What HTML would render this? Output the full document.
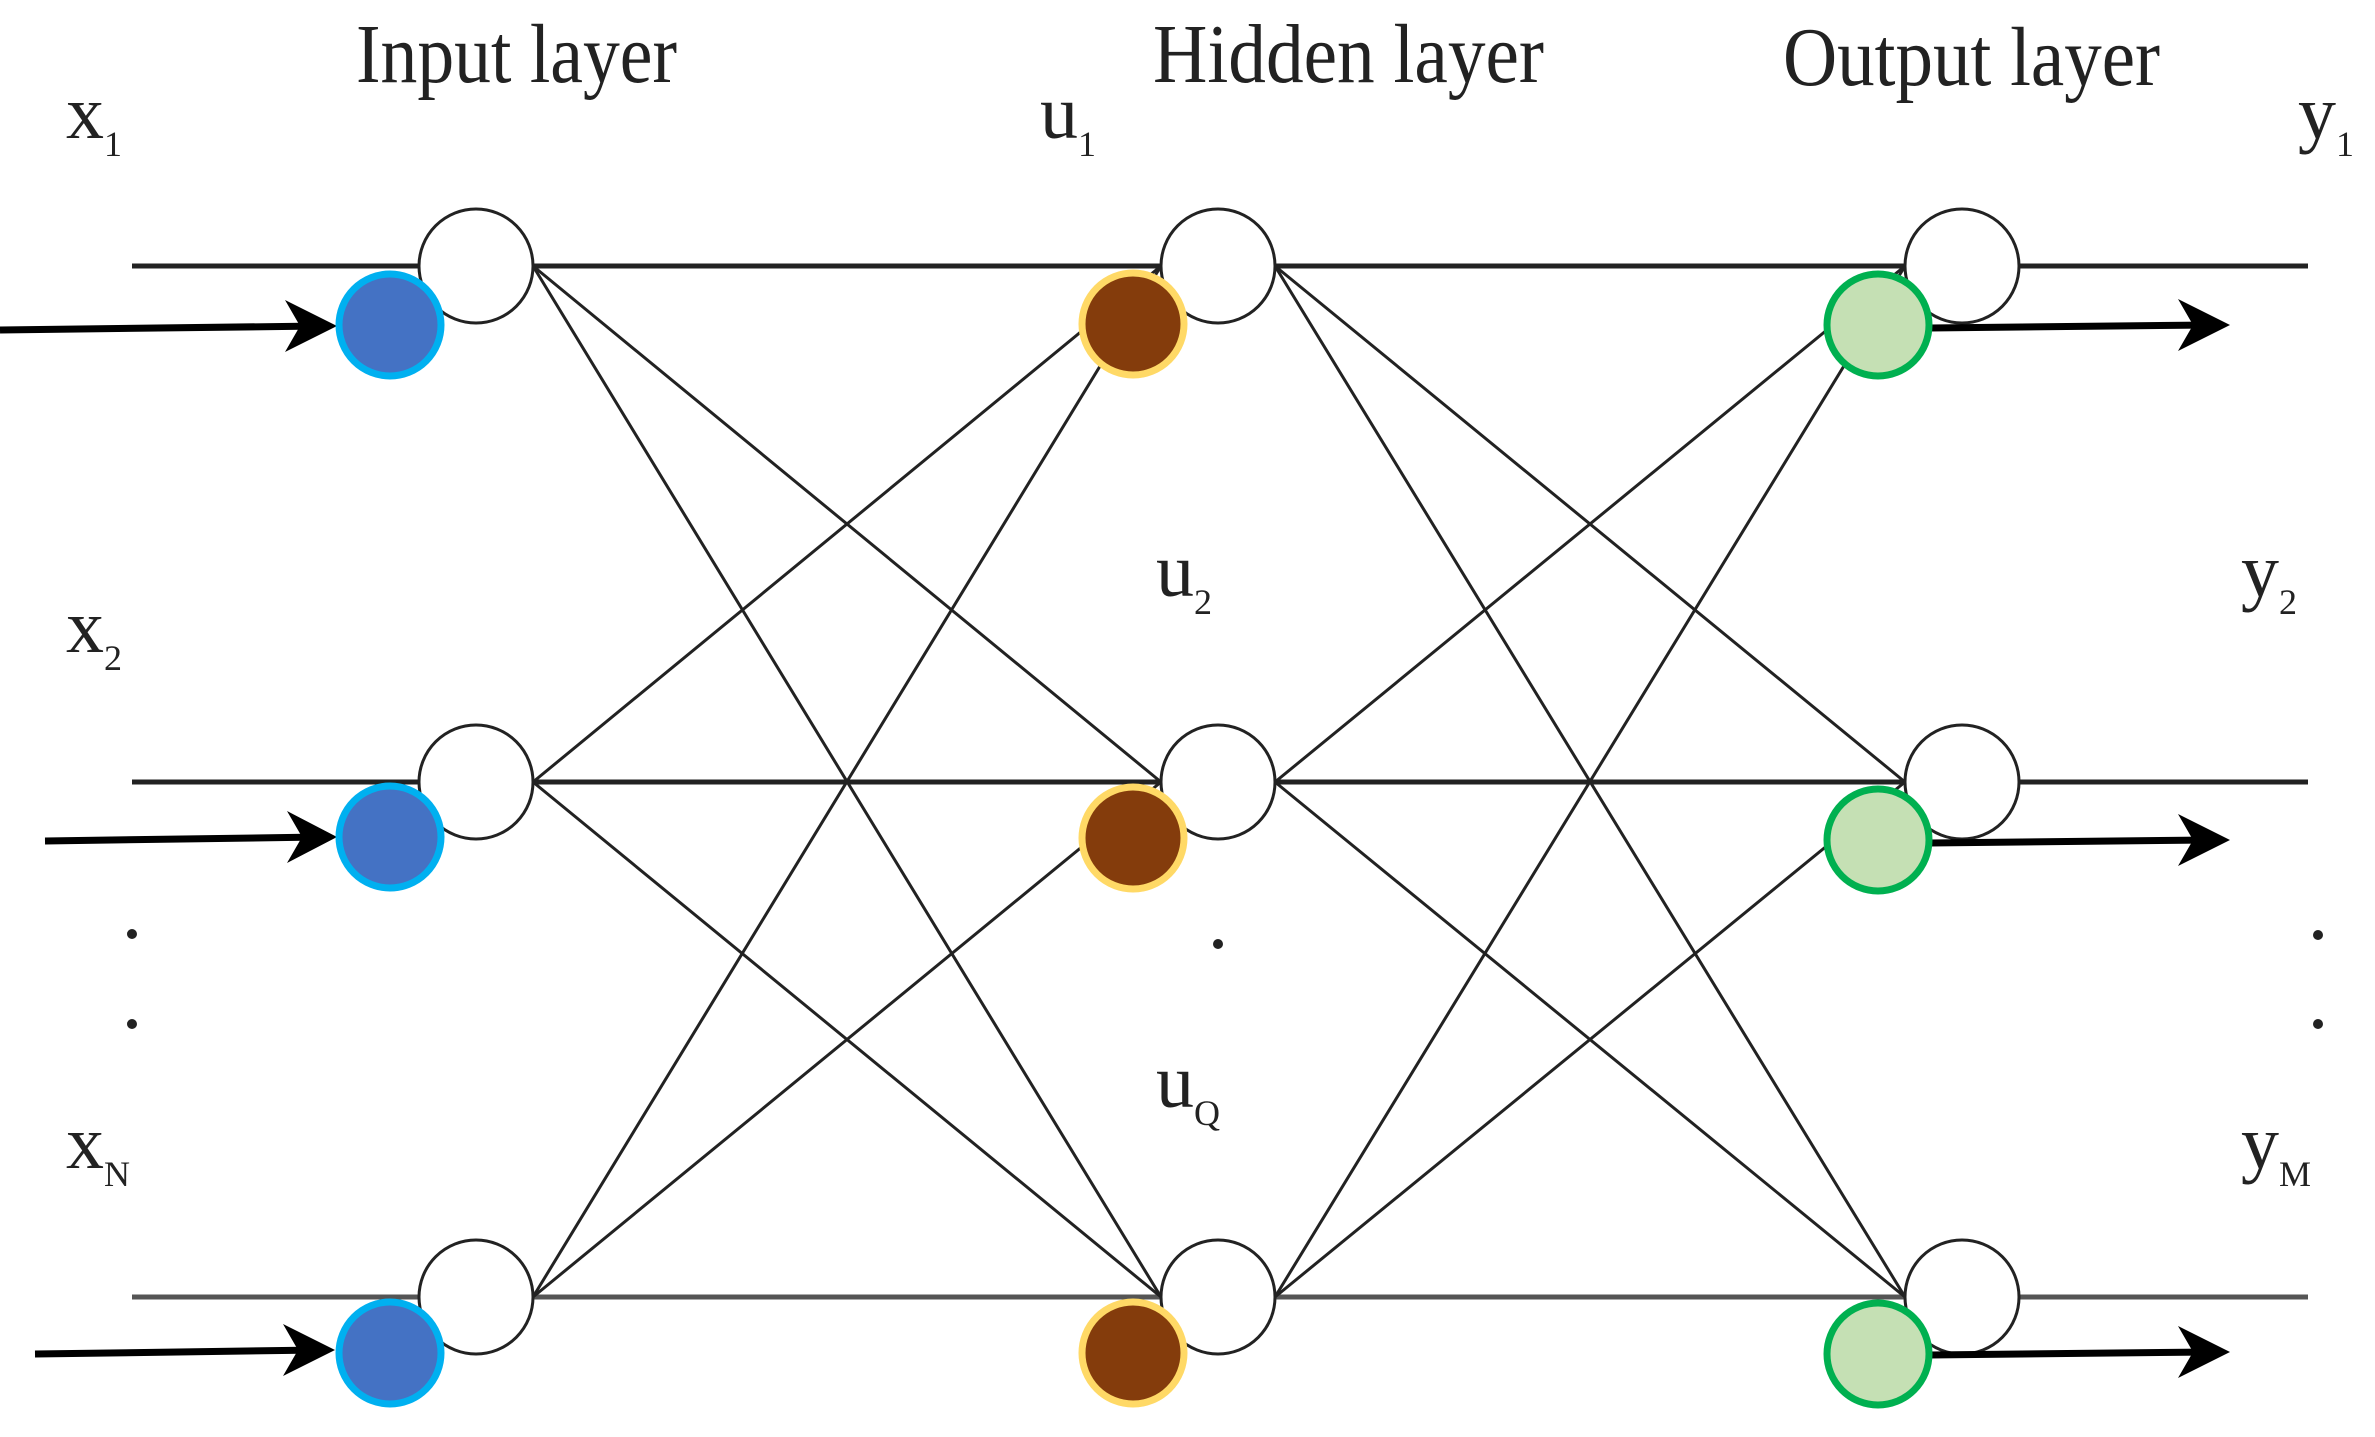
<!DOCTYPE html>
<html><head><meta charset="utf-8"><style>html,body{margin:0;padding:0;background:#fff;}svg{display:block}</style></head>
<body>
<svg width="2375" height="1437" viewBox="0 0 2375 1437" xmlns="http://www.w3.org/2000/svg">
<g stroke="#222" stroke-width="3" fill="none">
<line x1="132" y1="266" x2="2308" y2="266" stroke-width="5"/>
<line x1="132" y1="782" x2="2308" y2="782" stroke-width="5"/>
<line x1="132" y1="1297" x2="2308" y2="1297" stroke-width="5" stroke="#555"/>
<line x1="533" y1="266" x2="1161" y2="782"/>
<line x1="533" y1="266" x2="1161" y2="1297"/>
<line x1="533" y1="782" x2="1161" y2="266"/>
<line x1="533" y1="782" x2="1161" y2="1297"/>
<line x1="533" y1="1297" x2="1161" y2="266"/>
<line x1="533" y1="1297" x2="1161" y2="782"/>
<line x1="1275" y1="266" x2="1905" y2="782"/>
<line x1="1275" y1="266" x2="1905" y2="1297"/>
<line x1="1275" y1="782" x2="1905" y2="266"/>
<line x1="1275" y1="782" x2="1905" y2="1297"/>
<line x1="1275" y1="1297" x2="1905" y2="266"/>
<line x1="1275" y1="1297" x2="1905" y2="782"/>
</g>
<g fill="#fff" stroke="#222" stroke-width="3">
<circle cx="476" cy="266" r="57"/><circle cx="476" cy="782" r="57"/><circle cx="476" cy="1297" r="57"/>
<circle cx="1218" cy="266" r="57"/><circle cx="1218" cy="782" r="57"/><circle cx="1218" cy="1297" r="57"/>
<circle cx="1962" cy="266" r="57"/><circle cx="1962" cy="782" r="57"/><circle cx="1962" cy="1297" r="57"/>
</g>
<g stroke="#000" stroke-width="7" fill="none">
<line x1="0" y1="330" x2="320" y2="326"/>
<line x1="45" y1="841" x2="320" y2="837"/>
<line x1="35" y1="1354" x2="320" y2="1350"/>
<line x1="1930" y1="328" x2="2210" y2="325"/>
<line x1="1930" y1="843" x2="2210" y2="840"/>
<line x1="1930" y1="1355" x2="2210" y2="1352"/>
</g>
<g fill="#000">
<polygon points="337,326 285,300 300,326 285,352"/>
<polygon points="337,837 287,811 302,837 287,863"/>
<polygon points="335,1350 283,1324 298,1350 283,1376"/>
<polygon points="2230,325 2178,299 2193,325 2178,351"/>
<polygon points="2230,840 2178,814 2193,840 2178,866"/>
<polygon points="2230,1352 2178,1326 2193,1352 2178,1378"/>
</g>
<g stroke="#00b0f0" stroke-width="7" fill="#4472c4">
<circle cx="390" cy="325" r="51"/><circle cx="390" cy="837" r="51"/><circle cx="390" cy="1353" r="51"/>
</g>
<g stroke="#ffd966" stroke-width="7" fill="#843c0c">
<circle cx="1133" cy="324" r="51"/><circle cx="1133" cy="838" r="51"/><circle cx="1133" cy="1353" r="51"/>
</g>
<g stroke="#00b050" stroke-width="7" fill="#c5e0b4">
<circle cx="1878" cy="325" r="51"/><circle cx="1878" cy="840" r="51"/><circle cx="1878" cy="1354" r="51"/>
</g>
<g fill="#222">
<circle cx="132" cy="934" r="5"/><circle cx="132" cy="1024" r="5"/>
<circle cx="1218" cy="944" r="5"/>
<circle cx="2318" cy="935" r="5"/><circle cx="2318" cy="1024" r="5"/>
</g>
<g font-family="'Liberation Serif', serif" fill="#222">
<text x="356" y="82" font-size="84" textLength="321" lengthAdjust="spacingAndGlyphs">Input layer</text>
<text x="1153" y="82" font-size="84" textLength="391" lengthAdjust="spacingAndGlyphs">Hidden layer</text>
<text x="1783" y="85" font-size="84" textLength="377" lengthAdjust="spacingAndGlyphs">Output layer</text>
<g font-size="76">
<text x="66" y="138">x<tspan font-size="36" dy="18">1</tspan></text>
<text x="1040" y="138">u<tspan font-size="36" dy="18">1</tspan></text>
<text x="2298" y="138">y<tspan font-size="36" dy="18">1</tspan></text>
<text x="66" y="652">x<tspan font-size="36" dy="18">2</tspan></text>
<text x="1156" y="596">u<tspan font-size="36" dy="18">2</tspan></text>
<text x="2241" y="596">y<tspan font-size="36" dy="18">2</tspan></text>
<text x="66" y="1168">x<tspan font-size="36" dy="18">N</tspan></text>
<text x="1156" y="1107">u<tspan font-size="36" dy="18">Q</tspan></text>
<text x="2241" y="1168">y<tspan font-size="36" dy="18">M</tspan></text>
</g>
</g>
</svg>
</body></html>
